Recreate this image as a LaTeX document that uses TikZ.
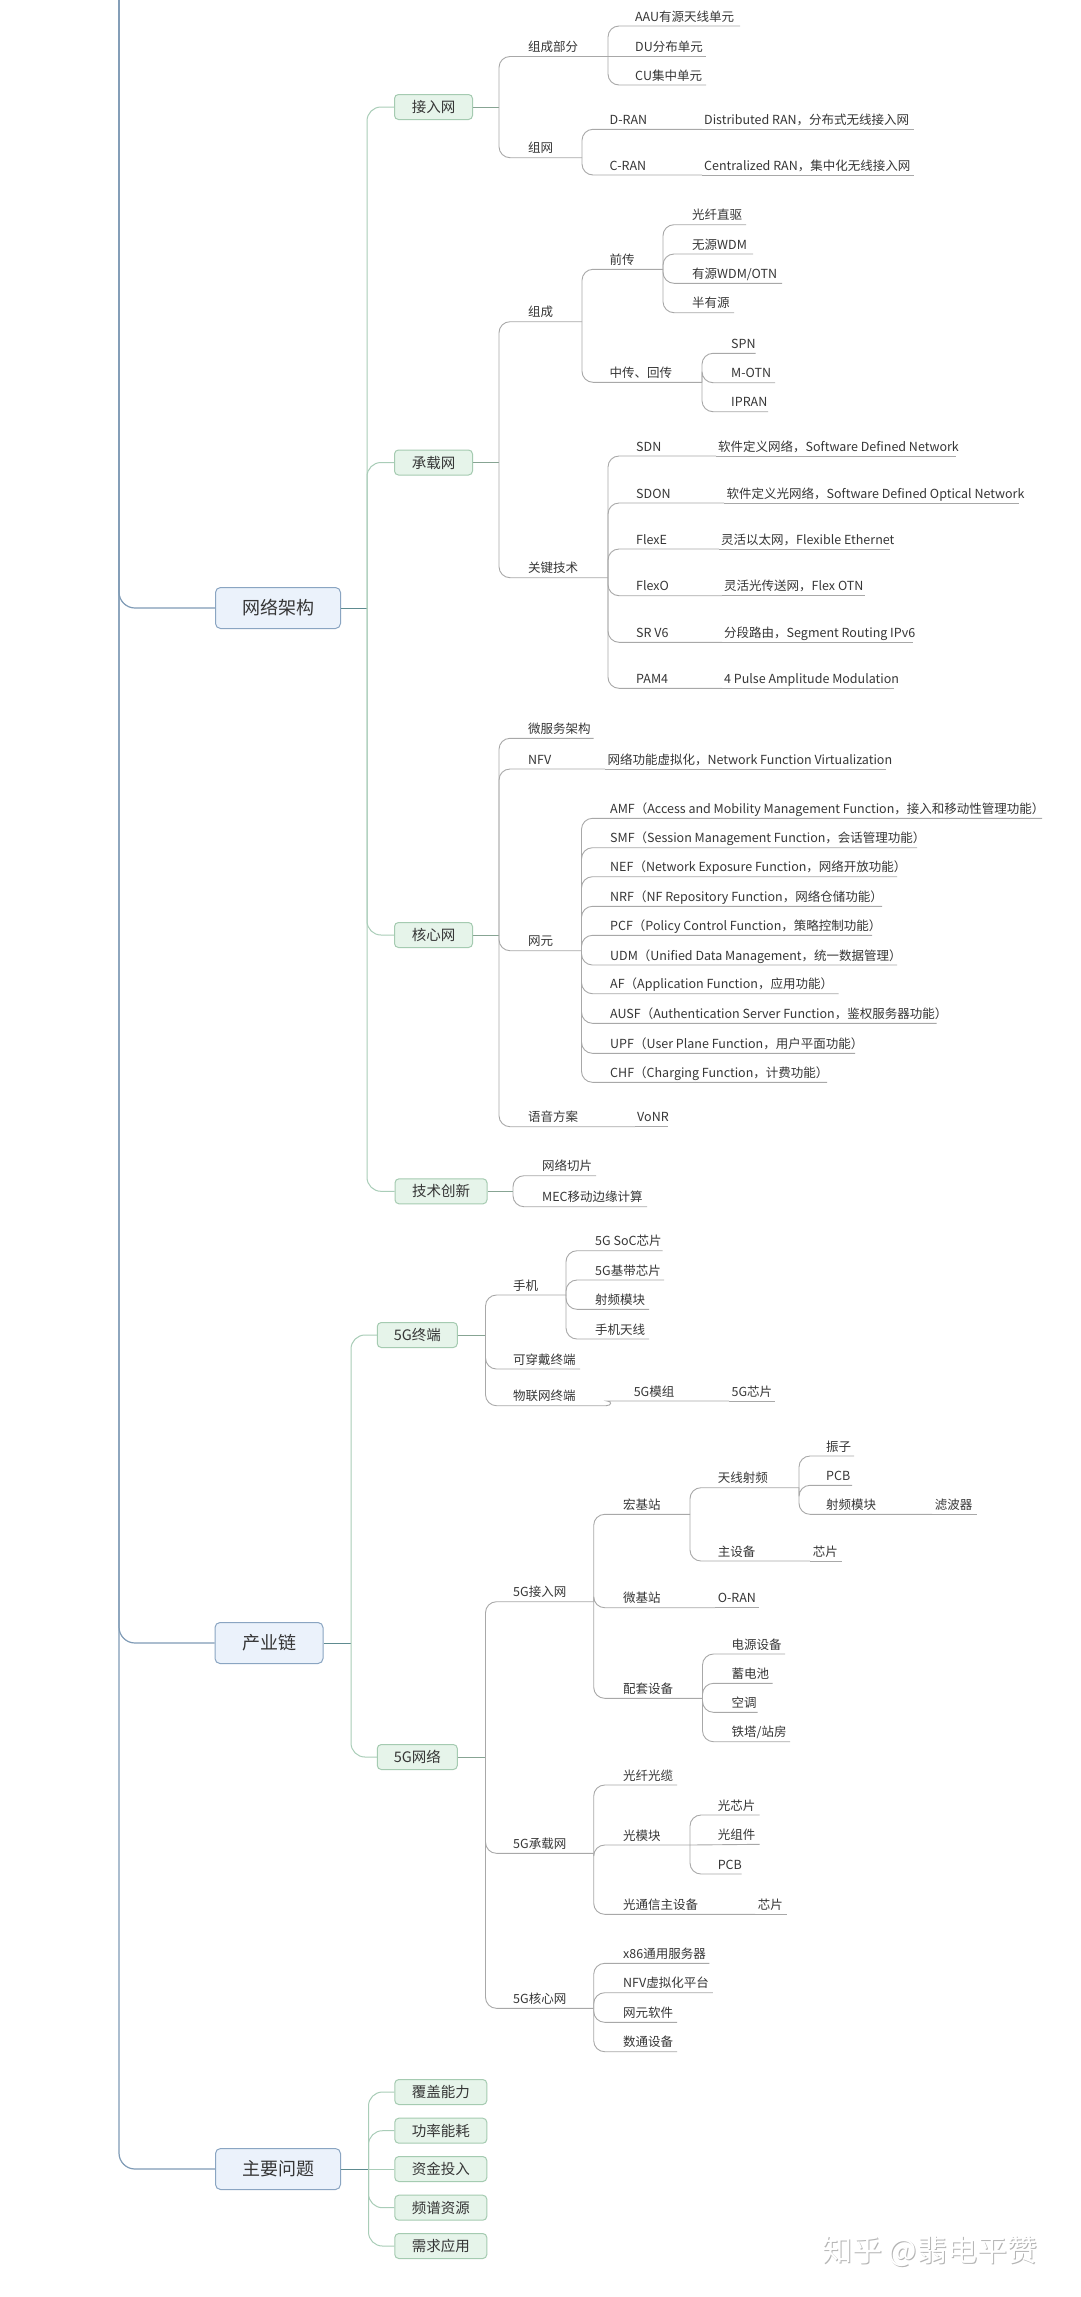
\documentclass[tikz,border=0pt]{standalone}
\usepackage{fontspec}
\setmainfont{Noto Sans CJK SC}
\definecolor{rootc}{HTML}{7F9BB6}
\definecolor{topfill}{HTML}{EBF2FB}
\definecolor{topdraw}{HTML}{8AA5C2}
\definecolor{secfill}{HTML}{E6F4EA}
\definecolor{secdraw}{HTML}{A5CBB1}
\definecolor{stubc}{HTML}{5E8B90}
\definecolor{secline}{HTML}{A9CDB8}
\definecolor{leafc}{HTML}{A8A8A8}
\definecolor{txt}{HTML}{363636}
\definecolor{wm}{HTML}{B4B4B4}
\tikzset{
  leaf/.style={anchor=base west, inner sep=0pt, text=txt, font=\fontsize{12.5}{14}\selectfont},
  leafline/.style={draw=leafc, line width=0.9pt, rounded corners=11pt},
  topbox/.style={draw=topdraw, fill=topfill, rounded corners=5pt, line width=1pt, minimum width=125pt, minimum height=41pt, inner sep=0pt, text=txt, font=\fontsize{18}{20}\selectfont},
  secbox/.style={draw=secdraw, fill=secfill, rounded corners=4pt, line width=1pt, minimum width=78pt, minimum height=25pt, inner sep=0pt, text=txt, font=\fontsize{14.5}{16}\selectfont},
  rootline/.style={draw=rootc, line width=1.2pt, rounded corners=16pt},
  stub/.style={draw=stubc, line width=1pt},
  secl/.style={draw=secline, line width=1pt, rounded corners=14pt},
  secstub/.style={draw=secline!80!black, line width=0.9pt},
}
% child that branches off a vertical
\newcommand\itm[6]{%
  \node[leaf] (#1) at (#3,#4-5) {#6};
  \coordinate (#1j) at (#5,#4);
  \draw[leafline] (#2) |- (#1j);
}
% child on the same line as its parent
\newcommand\itms[6]{%
  \node[leaf] (#1) at (#3,#4-5) {#6};
  \coordinate (#1j) at (#5,#4);
  \draw[leafline] (#2) -- (#1j);
}
\begin{document}
\begin{tikzpicture}[x=1pt,y=-1pt]
\useasboundingbox (0,0) rectangle (1080,2297);
\fill[white] (0,0) rectangle (1080,2297);
% ---------- root level ----------
\coordinate (rootTop) at (119,-5);
\node[topbox] (wljg) at (278,608) {网络架构};
\node[topbox, minimum width=108pt] (cyl) at (269,1643) {产业链};
\node[topbox] (zywt) at (278,2169) {主要问题};
\draw[rootline] (rootTop) |- (wljg.west);
\draw[rootline] (rootTop) |- (cyl.west);
\draw[rootline] (rootTop) |- (zywt.west);
% ---------- 网络架构 ----------
\coordinate (wljgj) at (367,608);
\draw[stub] (wljg.east) -- (wljgj);
\node[secbox] (jrw) at (433.5,107) {接入网};
\node[secbox] (czw) at (433.5,462.5) {承载网};
\node[secbox] (hxw) at (433.5,935) {核心网};
\node[secbox, minimum width=92pt] (jscx) at (441,1191.3) {技术创新};
\foreach \b in {jrw,czw,hxw,jscx} \draw[secl] (wljgj) |- (\b.west);
% 接入网
\coordinate (jrwj) at (499,107);
\draw[secstub] (jrw.east) -- (jrwj);
\itm{a1}{jrwj}{528}{56.5}{608}{组成部分}
\itm{a11}{a1j}{635}{26}{740}{AAU有源天线单元}
\itms{a12}{a1j}{635}{56.5}{706}{DU分布单元}
\itm{a13}{a1j}{635}{85}{706}{CU集中单元}
\itm{a2}{jrwj}{528}{157.7}{582}{组网}
\itm{a21}{a2j}{609.5}{129.3}{702}{D-RAN}
\itms{a211}{a21j}{704}{129.3}{914}{Distributed RAN，分布式无线接入网}
\itm{a22}{a2j}{609.5}{175}{702}{C-RAN}
\itms{a221}{a22j}{704}{175}{914}{Centralized RAN，集中化无线接入网}
% 承载网
\coordinate (czwj) at (499,462.5);
\draw[secstub] (czw.east) -- (czwj);
\itm{b1}{czwj}{528}{321.7}{582}{组成}
\itm{b11}{b1j}{609.5}{269.3}{663}{前传}
\itm{b111}{b11j}{692}{224.7}{746}{光纤直驱}
\itm{b112}{b11j}{692}{254}{753}{无源WDM}
\itm{b113}{b11j}{692}{283.3}{782}{有源WDM/OTN}
\itm{b114}{b11j}{692}{312.7}{734}{半有源}
\itm{b12}{b1j}{609.5}{382.3}{702}{中传、回传}
\itm{b121}{b12j}{731}{353.3}{755.5}{SPN}
\itm{b122}{b12j}{731}{382.7}{775}{M-OTN}
\itm{b123}{b12j}{731}{411.7}{768}{IPRAN}
\itm{b2}{czwj}{528}{577.7}{608}{关键技术}
\itm{b21}{b2j}{636}{456}{716}{SDN}
\itms{b211}{b21j}{718}{456}{956}{软件定义网络，Software Defined Network}
\itm{b22}{b2j}{636}{503}{724}{SDON}
\itms{b221}{b22j}{726.5}{503}{1019}{软件定义光网络，Software Defined Optical Network}
\itm{b23}{b2j}{636}{549}{719}{FlexE}
\itms{b231}{b23j}{721}{549}{890}{灵活以太网，Flexible Ethernet}
\itm{b24}{b2j}{636}{595.7}{722}{FlexO}
\itms{b241}{b24j}{724}{595.7}{865}{灵活光传送网，Flex OTN}
\itm{b25}{b2j}{636}{642.3}{722}{SR V6}
\itms{b251}{b25j}{724}{642.3}{913}{分段路由，Segment Routing IPv6}
\itm{b26}{b2j}{636}{688.3}{722}{PAM4}
\itms{b261}{b26j}{724}{688.3}{893.5}{4 Pulse Amplitude Modulation}
% 核心网
\coordinate (hxwj) at (499,935);
\draw[secstub] (hxw.east) -- (hxwj);
\itm{c1}{hxwj}{528}{738.3}{593.6}{微服务架构}
\itm{c2}{hxwj}{528}{769}{605}{NFV}
\itms{c21}{c2j}{607.4}{769}{886}{网络功能虚拟化，Network Function Virtualization}
\itm{c3}{hxwj}{528}{950.7}{581.5}{网元}
\itm{c31}{c3j}{610}{818.3}{1042}{AMF（Access and Mobility Management Function，接入和移动性管理功能）}
\itm{c32}{c3j}{610}{847.7}{917}{SMF（Session Management Function，会话管理功能）}
\itm{c33}{c3j}{610}{876.7}{897}{NEF（Network Exposure Function，网络开放功能）}
\itm{c34}{c3j}{610}{906.3}{882}{NRF（NF Repository Function，网络仓储功能）}
\itm{c35}{c3j}{610}{935.3}{872}{PCF（Policy Control Function，策略控制功能）}
\itm{c36}{c3j}{610}{965}{897}{UDM（Unified Data Management，统一数据管理）}
\itm{c37}{c3j}{610}{993.7}{838.5}{AF（Application Function，应用功能）}
\itm{c38}{c3j}{610}{1023.3}{936.5}{AUSF（Authentication Server Function，鉴权服务器功能）}
\itm{c39}{c3j}{610}{1053.3}{855}{UPF（User Plane Function，用户平面功能）}
\itm{c310}{c3j}{610}{1082.3}{827}{CHF（Charging Function，计费功能）}
\itm{c4}{hxwj}{528}{1126.7}{635}{语音方案}
\itms{c41}{c4j}{637}{1126.7}{668}{VoNR}
% 技术创新
\coordinate (jscxj) at (513,1191.3);
\draw[secstub] (jscx.east) -- (jscxj);
\itm{d1}{jscxj}{542}{1175.7}{596}{网络切片}
\itm{d2}{jscxj}{542}{1206.7}{647}{MEC移动边缘计算}
% ---------- 产业链 ----------
\coordinate (cylj) at (351,1643);
\draw[stub] (cyl.east) -- (cylj);
\node[secbox, minimum width=80pt] (zd) at (417.3,1335) {5G终端};
\node[secbox, minimum width=80pt] (wl) at (417.3,1757) {5G网络};
\foreach \b in {zd,wl} \draw[secl] (cylj) |- (\b.west);
% 5G终端
\coordinate (zdj) at (485.5,1335);
\draw[secstub] (zd.east) -- (zdj);
\itm{e1}{zdj}{513}{1295}{566}{手机}
\itm{e11}{e1j}{595}{1250.7}{662.5}{5G SoC芯片}
\itm{e12}{e1j}{595}{1280}{664}{5G基带芯片}
\itm{e13}{e1j}{595}{1309.3}{649}{射频模块}
\itm{e14}{e1j}{595}{1339}{649}{手机天线}
\itm{e2}{zdj}{513}{1369}{580}{可穿戴终端}
\itm{e3}{zdj}{513}{1405.7}{606}{物联网终端}
\node[leaf] (e31) at (633.6,1401-5) {5G模组};
\coordinate (e31j) at (729,1401);
\draw[leafline] (e3j) .. controls (612,1405.7) and (612,1401) .. (618,1401) -- (e31j);
\itms{e311}{e31j}{731.4}{1401}{775}{5G芯片}
% 5G网络
\coordinate (wlj) at (485.5,1757);
\draw[secstub] (wl.east) -- (wlj);
\itm{f1}{wlj}{513}{1601.7}{593.7}{5G接入网}
\itm{f11}{f1j}{623}{1514.3}{690}{宏基站}
\itm{f111}{f11j}{717.6}{1487.7}{799}{天线射频}
\itm{f1111}{f111j}{826}{1456}{854}{振子}
\itm{f1112}{f111j}{826}{1485.3}{852}{PCB}
\itm{f1113}{f111j}{826}{1514.3}{932}{射频模块}
\itms{f11131}{f1113j}{934.6}{1514.3}{976.6}{滤波器}
\itm{f112}{f11j}{717.6}{1561}{810}{主设备}
\itms{f1121}{f112j}{812.7}{1561}{841.6}{芯片}
\itm{f12}{f1j}{623}{1607.7}{715}{微基站}
\itms{f121}{f12j}{717.6}{1607.7}{759}{O-RAN}
\itm{f13}{f1j}{623}{1698.3}{702.5}{配套设备}
\itm{f131}{f13j}{731.4}{1654}{785}{电源设备}
\itm{f132}{f13j}{731.4}{1683.3}{772.7}{蓄电池}
\itm{f133}{f13j}{731.4}{1712.3}{757.6}{空调}
\itm{f134}{f13j}{731.4}{1741.7}{790}{铁塔/站房}
\itm{f2}{wlj}{513}{1853.3}{593.7}{5G承载网}
\itm{f21}{f2j}{623}{1785}{677}{光纤光缆}
\itm{f22}{f2j}{623}{1845}{690}{光模块}
\itm{f221}{f22j}{717.6}{1815}{759.6}{光芯片}
\itms{f222}{f22j}{717.6}{1844.3}{759.6}{光组件}
\itm{f223}{f22j}{717.6}{1874}{741.7}{PCB}
\itm{f23}{f2j}{623}{1914.3}{755}{光通信主设备}
\itms{f231}{f23j}{757.6}{1914.3}{786.5}{芯片}
\itm{f3}{wlj}{513}{2008.3}{593.7}{5G核心网}
\itm{f31}{f3j}{623}{1963.3}{709.4}{x86通用服务器}
\itm{f32}{f3j}{623}{1992.7}{712.8}{NFV虚拟化平台}
\itm{f33}{f3j}{623}{2022.3}{677}{网元软件}
\itm{f34}{f3j}{623}{2051.7}{677}{数通设备}
% ---------- 主要问题 ----------
\coordinate (zywtj) at (368.5,2169);
\draw[stub] (zywt.east) -- (zywtj);
\node[secbox, minimum width=92pt] (p1) at (440.8,2092) {覆盖能力};
\node[secbox, minimum width=92pt] (p2) at (440.8,2130.7) {功率能耗};
\node[secbox, minimum width=92pt] (p3) at (440.8,2169) {资金投入};
\node[secbox, minimum width=92pt] (p4) at (440.8,2207.7) {频谱资源};
\node[secbox, minimum width=92pt] (p5) at (440.8,2246) {需求应用};
\draw[secl] (zywtj) |- (p1.west);
\draw[secl] (zywtj) |- (p2.west);
\draw[secl] (zywtj) -- (p3.west);
\draw[secl] (zywtj) |- (p4.west);
\draw[secl] (zywtj) |- (p5.west);
% watermark
\node[anchor=west, inner sep=0pt, text=wm, font=\fontsize{30}{32}\selectfont] (wmk) at (823,2252) {知乎 @翡电平赞};
\node[anchor=west, inner sep=0pt, text=white, font=\fontsize{30}{32}\selectfont] (wmkw) at (822,2251) {知乎 @翡电平赞};
\end{tikzpicture}
\end{document}
